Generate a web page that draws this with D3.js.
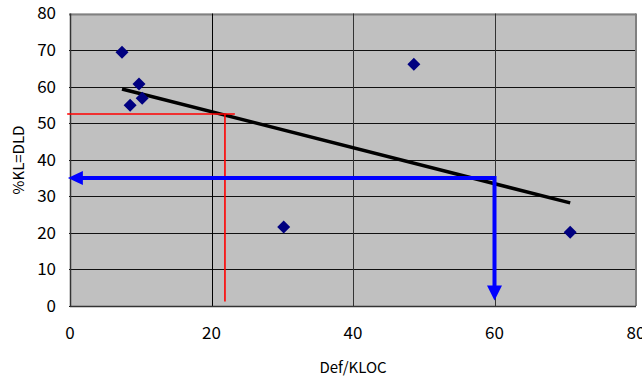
<!DOCTYPE html>
<html><head><meta charset="utf-8">
<script src="https://cdn.jsdelivr.net/npm/d3@7"></script>
<style>body{margin:0;background:#fff}svg{display:block}text{font-family:"Noto Sans CJK JP","Liberation Sans",sans-serif;fill:#000}</style>
</head><body><svg id="c" width="642" height="378"></svg>
<script>
const defKloc = [7.35, 9.75, 8.5, 10.2, 48.6, 30.2, 70.7];
const pctKL = [69.4, 60.7, 54.9, 56.8, 66.1, 21.6, 20.2];
const xTicks = [0, 20, 40, 60, 80];
const yTicks = [0, 10, 20, 30, 40, 50, 60, 70, 80];
const redGuide = {x: 21.9, y: 52.5, xEnd: 23.3, yEnd: 1.2};
const blueGuide = {x: 60, y: 35, xEnd: -0.3, yEnd: 1.5};
const xLabel = "Def/KLOC";
const yLabel = "%KL=DLD";

const svg = d3.select("#c");
const m = {l: 70, r: 636, t: 13.5, b: 306};
const x = d3.scaleLinear().domain([0, 80]).range([m.l, m.r]);
const y = d3.scaleLinear().domain([0, 80]).range([m.b, m.t]);

svg.append("rect").attr("x", m.l).attr("y", m.t).attr("width", m.r - m.l).attr("height", m.b - m.t).attr("fill", "#c0c0c0");

// gridlines
svg.append("g").selectAll("line").data(yTicks).join("line")
  .attr("x1", m.l - 1).attr("x2", m.r).attr("y1", d => Math.round(y(d)) + 0.5).attr("y2", d => Math.round(y(d)) + 0.5)
  .attr("stroke", d => d === 80 ? "#808080" : "#111").attr("stroke-width", d => d === 80 ? 2 : 1);
svg.append("g").selectAll("line").data(xTicks.filter(d => d > 0 && d < 80)).join("line")
  .attr("y1", m.t).attr("y2", m.b).attr("x1", d => Math.round(x(d)) + 0.5).attr("x2", d => Math.round(x(d)) + 0.5)
  .attr("stroke", d => d === 20 ? "#000" : "#333").attr("stroke-width", 1);
svg.append("line").attr("x1", m.r).attr("x2", m.r).attr("y1", m.t).attr("y2", m.b).attr("stroke", "#808080").attr("stroke-width", 2);
svg.append("line").attr("x1", m.l + 0.5).attr("x2", m.l + 0.5).attr("y1", m.t).attr("y2", m.b + 1).attr("stroke", "#333").attr("stroke-width", 1.5);
svg.append("line").attr("x1", m.l).attr("x2", m.r).attr("y1", m.b + 0.5).attr("y2", m.b + 0.5).attr("stroke", "#333").attr("stroke-width", 1.5);

// tick labels
svg.append("g").selectAll("text").data(yTicks).join("text")
  .attr("x", 56).attr("y", d => y(d)).attr("dy", "0.35em").attr("text-anchor", "end")
  .attr("font-size", 17).text(d => d);
svg.append("g").selectAll("text").data(xTicks).join("text")
  .attr("x", d => x(d)).attr("y", 339).attr("text-anchor", "middle")
  .attr("font-size", 17).text(d => d);

svg.append("text").attr("x", 353).attr("y", 373).attr("text-anchor", "middle").attr("font-size", 15).text(xLabel);
svg.append("text").attr("transform", "translate(24,160) rotate(-90)").attr("text-anchor", "middle").attr("font-size", 15).text(yLabel);

// trend line (least squares)
const n = defKloc.length;
const mx = d3.mean(defKloc), my = d3.mean(pctKL);
let sxy = 0, sxx = 0;
for (let i = 0; i < n; i++) { sxy += (defKloc[i] - mx) * (pctKL[i] - my); sxx += (defKloc[i] - mx) ** 2; }
const slope = sxy / sxx, icpt = my - slope * mx;
const [x0, x1] = d3.extent(defKloc);
svg.append("line").attr("x1", x(x0)).attr("y1", y(icpt + slope * x0)).attr("x2", x(x1)).attr("y2", y(icpt + slope * x1))
  .attr("stroke", "#000").attr("stroke-width", 3.5);

// red guide
svg.append("path").attr("d", `M${x(-0.4)},${y(redGuide.y)}H${x(redGuide.xEnd)}M${x(redGuide.x)},${y(redGuide.y)}V${y(redGuide.yEnd)}`)
  .attr("fill", "none").attr("stroke", "#ff0000").attr("stroke-width", 1.6);

// blue guide with arrows
const bx = x(blueGuide.x), by = y(blueGuide.y), bl = x(blueGuide.xEnd), bb = y(blueGuide.yEnd);
svg.append("path").attr("d", `M${bl + 14},${by}H${bx}V${bb - 14}`).attr("fill", "none").attr("stroke", "#0000ff").attr("stroke-width", 4);
svg.append("path").attr("d", `M${bl},${by}L${bl + 15},${by - 7}L${bl + 15},${by + 7}Z`).attr("fill", "#0000ff");
svg.append("path").attr("d", `M${bx},${bb}L${bx - 7.5},${bb - 15}L${bx + 7.5},${bb - 15}Z`).attr("fill", "#0000ff");

// points
svg.append("g").selectAll("path").data(defKloc).join("path")
  .attr("d", "M0,-6.5L6.5,0L0,6.5L-6.5,0Z")
  .attr("transform", (d, i) => `translate(${x(d)},${y(pctKL[i])})`)
  .attr("fill", "#000080");
</script></body></html>
